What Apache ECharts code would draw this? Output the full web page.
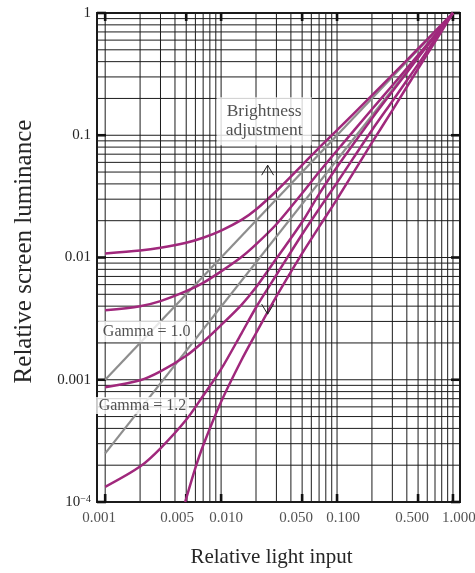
<!DOCTYPE html>
<html><head><meta charset="utf-8">
<script src="https://cdn.jsdelivr.net/npm/echarts@6/dist/echarts.min.js"></script>
<style>html,body{margin:0;padding:0;background:#fff}#c{width:475px;height:573px}</style>
</head><body><div id="c"></div>
<script>
// ---- data ----
const xInput = [0.001,0.002,0.003,0.005,0.007,0.01,0.015,0.02,0.03,0.05,0.07,0.1,0.2,0.3,0.5,0.7,1];
const curveA = [0.0108,0.0114,0.0120,0.0132,0.0145,0.0166,0.0203,0.0247,0.035,0.057,0.079,0.110,0.212,0.312,0.51,0.706,1.0];
const curveB = [0.0037,0.0040,0.0044,0.0053,0.0062,0.0077,0.0101,0.0128,0.0187,0.0335,0.050,0.075,0.163,0.255,0.452,0.66,1.0];
const curveC = [0.00087,0.00099,0.00117,0.00157,0.00204,0.0028,0.0041,0.0057,0.0098,0.0195,0.033,0.055,0.137,0.228,0.43,0.65,1.0];
const curveD = [0.000133,0.000195,0.000275,0.00047,0.00074,0.00122,0.0024,0.0039,0.0072,0.0155,0.025,0.041,0.110,0.19,0.38,0.61,1.0];
const xInputE = [0.0049,0.006,0.007,0.01,0.015,0.02,0.03,0.05,0.07,0.1,0.2,0.3,0.5,0.7,1];
const curveE = [0.0001,0.00019,0.00029,0.00066,0.00145,0.0024,0.0048,0.0108,0.0178,0.030,0.087,0.16,0.35,0.58,1.0];
const gammaX = [0.001, 1];
const gamma10 = [0.001, 1];
const gamma12 = [0.00025, 1];
const xTickValues = [0.001,0.005,0.01,0.05,0.1,0.5,1];
const xTickLabels = ['0.001','0.005','0.010','0.050','0.100','0.500','1.000'];
const yTickValues = [0.0001,0.001,0.01,0.1,1];
const gridMantissas = [1,2,3,4,5,6,7,8,9];
const xDecades = [0.001,0.01,0.1];
const yDecades = [0.0001,0.001,0.01,0.1];
const arrowX = [0.0252, 0.0252];
const arrowY = [0.00344, 0.0569];
const annotTexts = ['Brightness\nadjustment', 'Gamma = 1.0', 'Gamma = 1.2'];
const annotX = [0.0235, 0.00228, 0.0021];
const annotY = [0.130, 0.00248, 0.000615];

// ---- layout / style (not data) ----
const xLabelShift = [-6, -9, 5, -6, 6, -6, 6];
const annotStyles = [
  {backgroundColor:'#fff', width:81, height:40, padding:[4,7], fontSize:17.5, lineHeight:19, align:'center', verticalAlign:'middle'},
  {backgroundColor:'#fff', width:83, height:15, padding:[3,7], fontSize:16, lineHeight:15, align:'center', verticalAlign:'middle'},
  {backgroundColor:'#fff', width:81, height:13, padding:[2,6], fontSize:16, lineHeight:13, align:'center', verticalAlign:'middle'}
];

// ---- derived grid values ----
const gridX = [];
xDecades.forEach(d => gridMantissas.forEach(m => gridX.push(+(d*m).toPrecision(3))));
gridX.push(1);
const gridY = [];
yDecades.forEach(d => gridMantissas.forEach(m => gridY.push(+(d*m).toPrecision(3))));
gridY.push(1);

const X_MIN = 0.00085, X_MAX = 1.15, Y_MIN = 0.0001, Y_MAX = 1;
const MAGENTA = '#a0287c';
const GRAY = '#8e8e8e';
const FONT = 'Liberation Serif';
const INK = '#262626';

function renderGrid(params, api) {
  const cs = params.coordSys;
  const left = cs.x, right = cs.x + cs.width, top = cs.y, bottom = cs.y + cs.height;
  const ch = [];
  gridX.forEach(v => {
    const px = api.coord([v, Y_MAX])[0];
    ch.push({type:'line', shape:{x1:px, y1:top, x2:px, y2:bottom}, style:{stroke:'#1c1c1c', lineWidth:1}});
  });
  gridY.forEach(v => {
    const py = api.coord([X_MIN, v])[1];
    ch.push({type:'line', shape:{x1:left, y1:py, x2:right, y2:py}, style:{stroke:'#1c1c1c', lineWidth:1}});
  });
  xTickValues.forEach(v => {
    const px = api.coord([v, Y_MAX])[0];
    ch.push({type:'rect', shape:{x:px-1.3, y:bottom-8, width:2.6, height:8}, style:{fill:'#111'}});
    ch.push({type:'rect', shape:{x:px-1.3, y:top, width:2.6, height:8}, style:{fill:'#111'}});
  });
  yTickValues.forEach(v => {
    const py = api.coord([X_MIN, v])[1];
    ch.push({type:'rect', shape:{x:left, y:py-1.3, width:9, height:2.6}, style:{fill:'#111'}});
    ch.push({type:'rect', shape:{x:right-9, y:py-1.3, width:9, height:2.6}, style:{fill:'#111'}});
  });
  return {type:'group', children: ch};
}

function renderArrow(params, api) {
  const p0 = api.coord([arrowX[0], arrowY[0]]);
  const p1 = api.coord([arrowX[1], arrowY[1]]);
  const st = {stroke:'#222', lineWidth:1, fill:null};
  return {type:'group', children:[
    {type:'line', shape:{x1:p0[0], y1:p0[1], x2:p1[0], y2:p1[1]}, style:st},
    {type:'polyline', shape:{points:[[p1[0]-6, p1[1]+10],[p1[0], p1[1]],[p1[0]+6, p1[1]+10]]}, style:st},
    {type:'polyline', shape:{points:[[p0[0]-6, p0[1]-10],[p0[0], p0[1]],[p0[0]+6, p0[1]-10]]}, style:st}
  ]};
}

function lineSeries(xs, ys, color, width, z) {
  return {type:'line', data: xs.map((x,i)=>[x, ys[i]]), showSymbol:false, symbol:'none',
    smooth:0.3, lineStyle:{color:color, width:width}, z:z, silent:true, clip:true};
}

const chart = echarts.init(document.getElementById('c'));
chart.setOption({
  animation:false,
  grid:{left:97, right:15, top:13, bottom:71, show:true, borderColor:'#1a1a1a', borderWidth:2, backgroundColor:'#fff'},
  xAxis:{type:'log', logBase:10, min:X_MIN, max:X_MAX,
    axisLine:{show:false}, axisTick:{show:false}, axisLabel:{show:false}, splitLine:{show:false},
    name:'Relative light input', nameLocation:'middle', nameGap:45,
    nameTextStyle:{fontFamily:FONT, fontSize:21, color:INK, padding:[0,14,0,0]}},
  yAxis:{type:'log', logBase:10, min:Y_MIN, max:Y_MAX,
    axisLine:{show:false}, axisTick:{show:false}, splitLine:{show:false},
    axisLabel:{margin:6, fontFamily:FONT, fontSize:15, color:INK,
      formatter: v => { const e = Math.round(Math.log10(v)); return e === -4 ? '10{sup|−4}' : String(+v.toPrecision(3)); },
      rich:{sup:{fontFamily:FONT, fontSize:10, color:INK, verticalAlign:'top', padding:[0,0,6,0]}}},
    name:'Relative screen luminance', nameLocation:'middle', nameRotate:90, nameGap:60,
    nameTextStyle:{fontFamily:FONT, fontSize:25, color:INK, padding:[0,0,0,12]}},
  series:[
    {type:'custom', coordinateSystem:'cartesian2d', data:[[0.01,0.01]], renderItem:renderGrid, z:1, silent:true, clip:false},
    lineSeries(gammaX, gamma10, GRAY, 2.2, 2),
    lineSeries(gammaX, gamma12, GRAY, 2.2, 2),
    lineSeries(xInput, curveA, MAGENTA, 2.5, 3),
    lineSeries(xInput, curveB, MAGENTA, 2.5, 3),
    lineSeries(xInput, curveC, MAGENTA, 2.5, 3),
    lineSeries(xInput, curveD, MAGENTA, 2.5, 3),
    lineSeries(xInputE, curveE, MAGENTA, 2.5, 3),
    {type:'custom', coordinateSystem:'cartesian2d', data:[[0.01,0.01]], renderItem:renderArrow, z:4, silent:true},
    {type:'scatter', symbolSize:0, z:5, silent:true, clip:false,
      data: xTickValues.map((v,i) => ({value:[v, Y_MIN], label:{offset:[xLabelShift[i], 0]}})),
      label:{show:true, position:'bottom', distance:9, fontFamily:FONT, fontSize:15, color:INK,
        formatter: p => xTickLabels[p.dataIndex]}},
    {type:'scatter', symbolSize:0, z:6, silent:true, clip:false,
      data: annotX.map((x,i) => ({value:[x, annotY[i]], label: annotStyles[i]})),
      label:{show:true, position:'inside', fontFamily:FONT, color:INK,
        formatter: p => annotTexts[p.dataIndex]}}
  ]
});
</script></body></html>
